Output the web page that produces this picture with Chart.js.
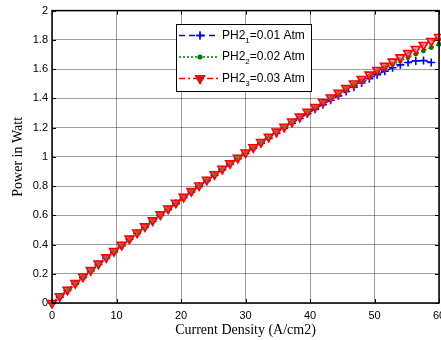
<!DOCTYPE html>
<html>
<head>
<meta charset="utf-8">
<script src="https://cdn.jsdelivr.net/npm/chart.js@4.4.0/dist/chart.umd.min.js"></script>
<style>
  html, body { margin: 0; padding: 0; background: #fff; overflow: hidden; }
  #wrap { width: 460px; height: 340px; }
</style>
</head>
<body>
<div id="wrap"><canvas id="c" width="460" height="340"></canvas></div>
<script>
// current density (A/cm2)
const currentDensity = [0, 1.2, 2.4, 3.6, 4.8, 6, 7.2, 8.4, 9.6, 10.8, 12, 13.2, 14.4, 15.6, 16.8, 18, 19.2, 20.4, 21.6, 22.8,
  24, 25.2, 26.4, 27.6, 28.8, 30, 31.2, 32.4, 33.6, 34.8, 36, 37.2, 38.4, 39.6, 40.8, 42, 43.2, 44.4, 45.6, 46.8,
  48, 49.2, 50.4, 51.6, 52.8, 54, 55.2, 56.4, 57.6, 58.8, 60];

// power in watt
const powerP1 = [0, 0.040, 0.085, 0.130, 0.175, 0.219, 0.263, 0.306, 0.349, 0.392, 0.434, 0.476, 0.518, 0.559, 0.600, 0.640, 0.680, 0.720, 0.759, 0.798,
  0.837, 0.875, 0.912, 0.950, 0.987, 1.023, 1.058, 1.093, 1.127, 1.161, 1.195, 1.229, 1.262, 1.294, 1.326, 1.357, 1.387, 1.417, 1.447, 1.476,
  1.505, 1.534, 1.561, 1.586, 1.609, 1.629, 1.645, 1.656, 1.658, 1.645];
const powerP2 = [0, 0.045, 0.090, 0.135, 0.180, 0.224, 0.268, 0.311, 0.354, 0.397, 0.439, 0.481, 0.523, 0.564, 0.605, 0.645, 0.685, 0.725, 0.764, 0.803,
  0.842, 0.880, 0.917, 0.955, 0.992, 1.028, 1.064, 1.100, 1.136, 1.171, 1.205, 1.240, 1.274, 1.307, 1.340, 1.373, 1.405, 1.436, 1.467, 1.496,
  1.524, 1.552, 1.580, 1.606, 1.631, 1.656, 1.680, 1.703, 1.726, 1.748, 1.770];
const powerP3 = [0, 0.046, 0.091, 0.136, 0.181, 0.225, 0.269, 0.312, 0.355, 0.398, 0.440, 0.482, 0.524, 0.565, 0.606, 0.646, 0.686, 0.726, 0.765, 0.804,
  0.843, 0.881, 0.918, 0.956, 0.993, 1.029, 1.065, 1.101, 1.137, 1.172, 1.206, 1.241, 1.275, 1.308, 1.341, 1.374, 1.406, 1.438, 1.470, 1.501,
  1.532, 1.562, 1.593, 1.622, 1.651, 1.680, 1.709, 1.737, 1.765, 1.792, 1.819];

const xTicks = [0, 10, 20, 30, 40, 50, 60];
const yTicks = [0, 0.2, 0.4, 0.6, 0.8, 1, 1.2, 1.4, 1.6, 1.8, 2];
const legendNames = ["PH2", "PH2", "PH2"];
const legendSubs = ["1", "2", "3"];
const legendRest = ["=0.01 Atm", "=0.02 Atm", "=0.03 Atm"];

const pts = ys => ys.map((y, i) => ({ x: currentDensity[i], y: y }));

const sets = [
  { color: "#0000ff", dash: [6, 4], style: "cross", radius: 4, rot: 0, bg: "#0000ff", bw: 1.6 },
  { color: "#008000", dash: [2, 2], style: "star", radius: 2.5, rot: 0, bg: "#008000", bw: 1.4 },
  { color: "#ff0000", dash: [6, 3, 2, 3], style: "triangle", radius: 5, rot: 180, bg: "rgba(255,90,90,0.55)", bw: 1.6 }
];

// inner ticks, box, titles, legend
const decor = {
  id: "decor",
  afterDraw(chart) {
    const ctx = chart.ctx, a = chart.chartArea;
    const xs = chart.scales.x, ys = chart.scales.y;
    ctx.save();
    ctx.strokeStyle = "#000";
    ctx.lineWidth = 1;
    ctx.setLineDash([]);
    ctx.beginPath();
    xTicks.forEach(t => {
      const px = Math.round(xs.getPixelForValue(t)) + 0.5;
      ctx.moveTo(px, a.bottom); ctx.lineTo(px, a.bottom - 4);
      ctx.moveTo(px, a.top); ctx.lineTo(px, a.top + 4);
    });
    yTicks.forEach(t => {
      const py = Math.round(ys.getPixelForValue(t)) + 0.5;
      ctx.moveTo(a.left, py); ctx.lineTo(a.left + 4, py);
      ctx.moveTo(a.right, py); ctx.lineTo(a.right - 4, py);
    });
    ctx.stroke();
    ctx.lineWidth = 1.5;
    ctx.strokeRect(a.left, a.top, a.right - a.left, a.bottom - a.top);

    // axis titles
    ctx.fillStyle = "#000";
    ctx.font = "14px 'Liberation Serif', 'Times New Roman', serif";
    ctx.textAlign = "center";
    ctx.textBaseline = "middle";
    ctx.fillText("Current Density (A/cm2)", (a.left + a.right) / 2, 330);
    ctx.save();
    ctx.translate(18, (a.top + a.bottom) / 2);
    ctx.rotate(-Math.PI / 2);
    ctx.fillText("Power in Watt", 0, 0);
    ctx.restore();

    // legend
    const bx = 176.5, by = 24.5, bwid = 135, bh = 67;
    ctx.fillStyle = "#fff";
    ctx.fillRect(bx, by, bwid, bh);
    ctx.lineWidth = 1;
    ctx.strokeStyle = "#000";
    ctx.strokeRect(bx, by, bwid, bh);
    const rows = [35.5, 57, 78.5];
    sets.forEach((s, i) => {
      const yy = rows[i];
      ctx.strokeStyle = s.color;
      ctx.lineWidth = 1.3;
      ctx.setLineDash(s.dash);
      ctx.beginPath();
      ctx.moveTo(179, yy); ctx.lineTo(219, yy);
      ctx.stroke();
      ctx.setLineDash([]);
      Chart.helpers.drawPoint(ctx, {
        pointStyle: s.style, radius: s.radius, rotation: s.rot, borderWidth: s.bw
      }, 200, yy);
      ctx.fillStyle = s.bg;
      ctx.strokeStyle = s.color;
      ctx.fill();
      ctx.stroke();
      ctx.fillStyle = "#000";
      ctx.textAlign = "left";
      ctx.textBaseline = "middle";
      ctx.font = "12px 'Liberation Sans', Arial, sans-serif";
      let tx = 222;
      ctx.fillText(legendNames[i], tx, yy);
      tx += ctx.measureText(legendNames[i]).width;
      ctx.font = "8px 'Liberation Sans', Arial, sans-serif";
      ctx.fillText(legendSubs[i], tx, yy + 5);
      tx += ctx.measureText(legendSubs[i]).width;
      ctx.font = "12px 'Liberation Sans', Arial, sans-serif";
      ctx.fillText(legendRest[i], tx, yy);
    });
    ctx.restore();
  }
};

const series = [powerP1, powerP2, powerP3];
const datasets = series.map((ys, i) => {
  const s = sets[i];
  return {
    data: pts(ys),
    borderColor: s.color,
    borderWidth: 1.3,
    borderDash: s.dash,
    pointStyle: s.style,
    pointRadius: s.radius,
    pointRotation: s.rot,
    pointBorderColor: s.color,
    pointBackgroundColor: s.bg,
    pointBorderWidth: s.bw,
    fill: false,
    tension: 0,
    clip: false,
    order: 3 - i
  };
});

new Chart(document.getElementById("c"), {
  type: "line",
  data: { datasets: datasets },
  options: {
    responsive: false,
    animation: false,
    layout: { padding: { top: 10, right: 21, left: 0, bottom: 0 } },
    plugins: { legend: { display: false }, tooltip: { enabled: false } },
    scales: {
      x: {
        type: "linear",
        min: 0, max: 60,
        afterFit: s => { s.height = 37; },
        afterBuildTicks: s => { s.ticks = xTicks.map(v => ({ value: v })); },
        grid: { color: "rgba(0,0,0,0.38)", drawTicks: false },
        border: { display: false },
        ticks: {
          padding: 6,
          color: "#000",
          maxRotation: 0,
          font: { family: "'Liberation Sans', Arial, sans-serif", size: 11 },
          callback: v => String(v)
        }
      },
      y: {
        min: 0, max: 2,
        afterFit: s => { s.width = 52; },
        afterBuildTicks: s => { s.ticks = yTicks.map(v => ({ value: v })); },
        grid: { color: "rgba(0,0,0,0.38)", drawTicks: false },
        border: { display: false },
        ticks: {
          padding: 4,
          color: "#000",
          font: { family: "'Liberation Sans', Arial, sans-serif", size: 11 },
          callback: v => String(+v.toFixed(1))
        }
      }
    }
  },
  plugins: [decor]
});
</script>
</body>
</html>
